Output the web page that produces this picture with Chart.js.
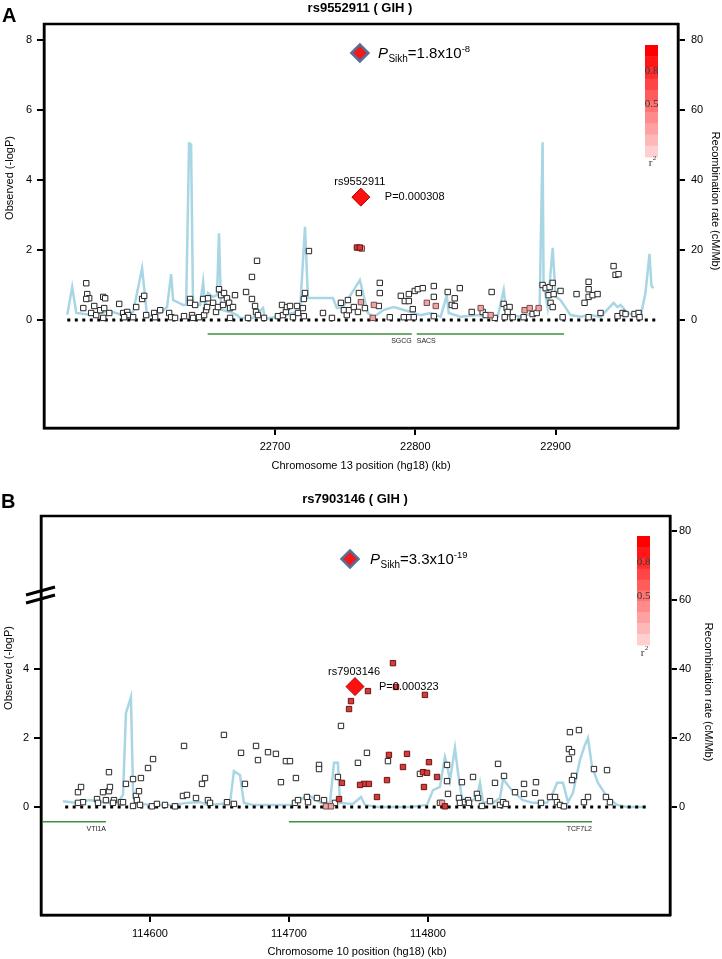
<!DOCTYPE html>
<html>
<head>
<meta charset="utf-8">
<script src="https://cdn.jsdelivr.net/npm/chart.js@4.4.0/dist/chart.umd.min.js"></script>
<style>
  body { margin: 0; background: #fff; }
  #wrap { position: relative; width: 722px; height: 959px; }
  canvas { position: absolute; left: 0; }
  #chartA { top: 0; }
  #chartB { top: 480px; }
</style>
</head>
<body>
<div id="wrap">
  <canvas id="chartA" width="722" height="480"></canvas>
  <canvas id="chartB" width="722" height="479"></canvas>
</div>
<script>
// ---------- shared ticks ----------
const recTicks = [0, 20, 40, 60, 80];

// ---------- panel A: rs9552911, chromosome 13 ----------
const xTicksA = [22700, 22800, 22900];
const yTicksA = [0, 2, 4, 6, 8];

// r2 low (white squares)
const lowPosA = [22565.5, 22566.2, 22567.6, 22565.5, 22563.4, 22571.2, 22569.0, 22572.6, 22575.5, 22577.6,
  22579.0, 22578.3, 22577.6, 22581.9, 22589.0, 22591.8, 22594.7, 22595.4, 22592.5, 22598.9,
  22601.1, 22605.3, 22606.8, 22608.2, 22613.9, 22614.6, 22618.2, 22624.6, 22626.0, 22628.8,
  22635.2, 22639.5, 22639.5, 22643.1, 22640.9, 22641.6, 22645.9, 22648.8, 22649.5, 22650.9,
  22652.3, 22651.6, 22655.9, 22658.0, 22659.4, 22660.1, 22661.6, 22663.0, 22663.7, 22665.8,
  22667.3, 22668.0, 22668.0, 22670.1, 22671.5, 22679.4, 22683.6, 22683.6, 22685.8, 22687.2,
  22686.5, 22687.9, 22680.8, 22692.2, 22702.1, 22705.0, 22705.7, 22707.8, 22708.5, 22710.7,
  22712.8, 22715.7, 22716.4, 22719.9, 22720.6, 22720.6, 22721.4, 22724.2, 22734.2, 22740.6,
  22747.0, 22752.0, 22749.1, 22751.2, 22752.7, 22756.2, 22759.1, 22759.8, 22764.1, 22774.0,
  22774.7, 22774.7, 22781.8, 22789.7, 22792.5, 22795.4, 22795.4, 22795.4, 22798.2, 22799.6,
  22801.8, 22805.3, 22791.8, 22798.9, 22813.2, 22813.2, 22813.2, 22823.1, 22826.0, 22828.1,
  22828.1, 22831.7, 22840.2, 22848.0, 22850.2, 22854.4, 22856.6, 22863.0, 22865.1, 22867.2,
  22865.8, 22863.7, 22869.4, 22877.2, 22883.6, 22886.5, 22890.7, 22892.9, 22895.7, 22897.9,
  22895.0, 22898.6, 22896.4, 22897.9, 22903.5, 22905.0, 22914.9, 22920.6, 22923.5, 22923.5,
  22923.5, 22923.5, 22926.3, 22929.9, 22932.0, 22941.3, 22942.7, 22944.8, 22944.1, 22947.7,
  22949.8, 22956.2, 22959.1, 22959.8];
const lowLogpA = [1.05, 0.74, 0.62, 0.60, 0.34, 0.40, 0.20, 0.14, 0.28, 0.66,
  0.62, 0.34, 0.06, 0.20, 0.46, 0.20, 0.23, 0.14, 0.08, 0.08,
  0.37, 0.60, 0.69, 0.14, 0.20, 0.08, 0.28, 0.20, 0.08, 0.06,
  0.11, 0.60, 0.49, 0.43, 0.14, 0.06, 0.08, 0.60, 0.14, 0.28,
  0.62, 0.37, 0.49, 0.23, 0.37, 0.88, 0.71, 0.43, 0.77, 0.62,
  0.49, 0.34, 0.06, 0.37, 0.71, 0.80, 1.23, 0.60, 0.40, 1.69,
  0.23, 0.14, 0.06, 0.06, 0.11, 0.43, 0.14, 0.23, 0.37, 0.40,
  0.08, 0.40, 0.20, 0.34, 0.60, 0.11, 0.77, 1.97, 0.20, 0.06,
  0.49, 0.57, 0.28, 0.14, 0.28, 0.37, 0.23, 0.77, 0.34, 0.40,
  1.06, 0.77, 0.08, 0.69, 0.54, 0.74, 0.54, 0.08, 0.31, 0.83,
  0.88, 0.91, 0.08, 0.08, 0.97, 0.66, 0.11, 0.80, 0.43, 0.62,
  0.40, 0.91, 0.23, 0.23, 0.14, 0.80, 0.06, 0.46, 0.34, 0.37,
  0.23, 0.08, 0.08, 0.08, 0.17, 0.20, 1.00, 0.91, 0.94, 1.06,
  0.71, 0.74, 0.49, 0.37, 0.83, 0.08, 0.74, 0.49, 1.09, 0.88,
  0.66, 0.08, 0.71, 0.74, 0.20, 1.54, 1.29, 1.31, 0.11, 0.20,
  0.17, 0.17, 0.20, 0.08];
// r2 moderate (pink squares)
const midPosA = [22761.9, 22761.2, 22770.5, 22769.7, 22808.2, 22814.6, 22846.6, 22853.7, 22877.9, 22881.5, 22887.9];
const midLogpA = [2.04, 0.51, 0.43, 0.06, 0.49, 0.40, 0.34, 0.14, 0.28, 0.34, 0.34];
// r2 high (red squares)
const highPosA = [22758.4, 22760.5];
const highLogpA = [2.07, 2.07];

// recombination rate (cM/Mb)
const recPosA = [22552.0, 22555.5, 22558.4, 22568.3, 22582.6, 22593.2, 22598.9, 22605.3, 22608.9, 22618.2,
  22623.1, 22626.0, 22627.4, 22634.5, 22636.7, 22638.8, 22639.6, 22640.2, 22641.6, 22646.6,
  22648.8, 22650.2, 22652.3, 22655.9, 22658.7, 22660.1, 22661.6, 22668.0, 22673.0, 22675.1,
  22684.3, 22691.5, 22692.9, 22701.4, 22712.8, 22717.8, 22721.4, 22723.5, 22741.3, 22744.1,
  22748.4, 22760.5, 22766.2, 22770.5, 22777.6, 22784.7, 22796.8, 22803.9, 22811.0, 22818.1,
  22822.4, 22823.8, 22832.4, 22844.5, 22851.6, 22858.7, 22863.0, 22865.1, 22875.1, 22884.3,
  22888.6, 22890.7, 22891.4, 22894.3, 22897.9, 22900.0, 22903.5, 22910.7, 22917.8, 22924.9,
  22932.0, 22941.3, 22944.1, 22946.3, 22951.2, 22955.5, 22960.5, 22964.0, 22966.9, 22968.3,
  22969.7];
const recRateA = [1.5, 9.4, 2.0, 1.5, 2.5, 1.2, 2.3, 14.8, 0.9, 2.0,
  3.7, 13.1, 5.7, 4.3, 4.3, 50.8, 46.0, 50.5, 4.3, 4.3,
  10.9, 3.7, 7.7, 6.6, 7.1, 24.8, 2.9, 2.3, 1.4, 0.6,
  0.6, 3.4, 0.3, 0.9, 2.0, 2.3, 26.6, 6.3, 6.3, 3.4,
  3.7, 11.4, 2.0, 0.9, 2.9, 3.7, 2.3, 1.4, 2.0, 0.9,
  7.1, 2.0, 0.9, 1.4, 0.9, 0.9, 8.6, 1.4, 0.9, 2.0,
  3.7, 50.8, 10.6, 3.7, 20.6, 6.6, 5.7, 1.4, 0.9, 1.4,
  0.9, 4.9, 3.7, 4.3, 2.0, 1.4, 0.9, 7.7, 18.9, 9.7,
  9.1];

const geneNamesA = ['SGCG', 'SACS'];
const geneStartA = [22652.0, 22801.0];
const geneEndA = [22797.5, 22906.0];
const geneLabelAtA = ['end', 'start'];

const indexNameA = 'rs9552911';
const indexPA = 'P=0.000308';
const indexPosA = 22761.2;
const indexLogpA = 3.51;
const sikhPosA = 22760.5;
const sikhLogpA = 7.63;
const sikhTextA = ['1.8x10', '-8'];
const baseSpanA = [22552, 22971];

// ---------- panel B: rs7903146, chromosome 10 ----------
const xTicksB = [114600, 114700, 114800];
const yTicksB = [0, 2, 4];

const lowPosB = [114548.2, 114550.4, 114551.8, 114548.2, 114561.9, 114562.6, 114566.2, 114568.3, 114570.5, 114571.2,
  114570.5, 114574.1, 114573.4, 114579.1, 114580.6, 114582.7, 114587.8, 114587.8, 114589.9, 114590.6,
  114592.1, 114593.5, 114592.8, 114598.6, 114602.2, 114601.4, 114605.0, 114610.8, 114618.0, 114624.5,
  114623.7, 114626.6, 114633.1, 114637.4, 114639.6, 114641.7, 114643.2, 114653.2, 114655.4, 114660.4,
  114665.5, 114668.3, 114676.3, 114677.7, 114684.9, 114690.6, 114694.2, 114697.8, 114700.7, 114705.0,
  114704.3, 114706.5, 114712.9, 114713.7, 114720.1, 114721.6, 114721.6, 114725.2, 114733.1, 114735.2,
  114737.4, 114749.6, 114756.1, 114771.2, 114794.2, 114813.7, 114813.7, 114814.4, 114808.6, 114822.3,
  114824.4, 114823.0, 114826.6, 114828.8, 114829.5, 114832.4, 114835.2, 114836.0, 114838.8, 114844.6,
  114848.2, 114850.4, 114854.7, 114851.8, 114854.0, 114856.1, 114862.6, 114869.1, 114869.1, 114877.7,
  114877.0, 114881.3, 114887.8, 114891.4, 114892.8, 114895.0, 114897.8, 114902.1, 114908.6, 114901.4,
  114903.6, 114901.4, 114905.0, 114903.6, 114912.2, 114915.1, 114919.4, 114928.8, 114928.0, 114930.9];
const lowLogpB = [0.43, 0.58, 0.14, 0.12, 0.23, 0.12, 0.43, 0.20, 0.46, 0.58,
  1.01, 0.20, 0.12, 0.14, 0.14, 0.67, 0.81, 0.03, 0.32, 0.20,
  0.46, 0.84, 0.06, 1.13, 1.39, 0.02, 0.09, 0.06, 0.02, 1.77,
  0.32, 0.35, 0.26, 0.67, 0.84, 0.20, 0.12, 2.09, 0.14, 0.09,
  1.57, 0.67, 1.77, 1.36, 1.59, 1.54, 0.72, 1.33, 1.33, 0.84,
  0.12, 0.20, 0.29, 0.14, 0.26, 1.22, 1.10, 0.20, 0.12, 0.87,
  2.35, 1.28, 1.57, 1.33, 0.96, 1.22, 0.75, 0.38, 0.12, 0.26,
  0.72, 0.12, 0.14, 0.20, 0.12, 0.87, 0.38, 0.26, 0.03, 0.17,
  0.70, 1.25, 0.90, 0.06, 0.14, 0.09, 0.43, 0.67, 0.38, 0.72,
  0.41, 0.12, 0.29, 0.29, 0.14, 0.06, 0.02, 2.17, 2.23, 1.68,
  1.59, 1.39, 0.90, 0.78, 0.14, 0.29, 1.10, 1.07, 0.29, 0.14];
const midPosB = [114726.6, 114730.2, 114810.1];
const midLogpB = [0.02, 0.02, 0.12];
const highPosB = [114774.8, 114756.8, 114777.0, 114797.8, 114744.6, 114743.2, 114771.9, 114784.9, 114782.0, 114800.7,
  114796.4, 114799.3, 114806.5, 114797.1, 114770.5, 114754.0, 114757.5, 114763.3, 114738.1, 114736.0,
  114751.1, 114812.2];
const highLogpB = [4.17, 3.36, 3.48, 3.25, 3.07, 2.84, 1.51, 1.54, 1.16, 1.30,
  1.01, 0.99, 0.87, 0.58, 0.78, 0.67, 0.67, 0.29, 0.70, 0.23,
  0.64, 0.02];

const recPosB = [114537.4, 114547.5, 114556.8, 114569.1, 114577.0, 114580.6, 114582.7, 114586.3, 114587.8, 114589.2,
  114600.0, 114616.5, 114626.6, 114636.0, 114641.7, 114650.4, 114657.6, 114660.4, 114664.7, 114667.6,
  114674.1, 114688.5, 114702.9, 114710.1, 114713.7, 114722.3, 114729.5, 114732.4, 114735.2, 114736.7,
  114746.0, 114751.8, 114754.7, 114763.3, 114787.0, 114799.3, 114803.6, 114808.6, 114812.2, 114813.7,
  114815.8, 114819.4, 114821.6, 114824.4, 114830.2, 114835.2, 114837.4, 114839.6, 114846.8, 114851.8,
  114854.0, 114859.0, 114864.0, 114868.3, 114875.5, 114885.6, 114889.9, 114892.8, 114897.1, 114900.7,
  114904.3, 114909.3, 114912.9, 114915.1, 114918.0, 114922.3, 114928.8, 114936.0, 114943.2, 114956.1];
const recRateB = [1.7, 1.2, 2.0, 1.2, 1.4, 3.5, 27.2, 31.9, 4.9, 1.2,
  0.6, 0.6, 1.2, 1.4, 0.6, 0.9, 1.2, 10.4, 9.3, 1.2,
  0.6, 0.6, 0.6, 2.6, 3.5, 1.4, 1.2, 12.8, 12.8, 1.2,
  0.9, 2.9, 0.6, 0.0, 0.0, 0.6, 4.9, 5.8, 14.5, 12.2,
  7.8, 17.1, 9.9, 2.6, 1.4, 2.9, 7.0, 1.4, 1.2, 2.6,
  8.1, 5.5, 3.5, 2.0, 1.2, 1.2, 4.1, 7.0, 7.0, 1.4,
  4.1, 13.6, 18.0, 20.0, 11.6, 7.0, 2.9, 0.6, 0.0, 0.0];

const geneNamesB = ['VTI1A', 'TCF7L2'];
const geneStartB = [114522.0, 114700.0];
const geneEndB = [114568.3, 114918.0];
const geneLabelAtB = ['end', 'end'];

const indexNameB = 'rs7903146';
const indexPB = 'P=0.000323';
const indexPosB = 114747.5;
const indexLogpB = 3.49;
const sikhPosB = 114743.9;
const sikhLogpB = 7.19;
const sikhTextB = ['3.3x10', '-19'];
const baseSpanB = [114539, 114957.5];

// ---------- drawing ----------
const FONT = '"Liberation Sans", Arial, Helvetica, sans-serif';
const SERIF = '"Liberation Serif", "Times New Roman", serif';

function pts(xs, ys) {
  return xs.map((x, i) => ({ x: x, y: ys[i] }));
}

function decorPlugin(p, lay) {
  return {
    id: 'decor',
    afterDraw(chart) {
      const ctx = chart.ctx;
      const a = chart.chartArea;
      const xs = chart.scales.x;
      const ys = chart.scales.y;
      ctx.save();
      ctx.strokeStyle = '#000';
      ctx.lineWidth = 2.5;
      ctx.strokeRect(a.left, a.top, a.right - a.left, a.bottom - a.top);

      ctx.fillStyle = '#000';
      ctx.textBaseline = 'alphabetic';
      ctx.textAlign = 'left';
      ctx.font = 'bold 20px ' + FONT;
      ctx.fillText(lay.letter, lay.letterX, lay.letterY);
      ctx.textAlign = 'center';
      ctx.font = 'bold 13px ' + FONT;
      ctx.fillText(p.title, lay.titleX, lay.titleY);

      // axis titles
      ctx.font = '11px ' + FONT;
      ctx.textBaseline = 'middle';
      ctx.fillText(p.xTitle, lay.xTitleX, lay.xTitleY);
      ctx.save();
      ctx.translate(lay.yTitleX, lay.yTitleY);
      ctx.rotate(-Math.PI / 2);
      ctx.fillText('Observed (-logP)', 0, 0);
      ctx.restore();
      ctx.save();
      ctx.translate(lay.y2TitleX, lay.y2TitleY);
      ctx.rotate(Math.PI / 2);
      ctx.fillText('Recombination rate (cM/Mb)', 0, 0);
      ctx.restore();

      // gene labels
      ctx.font = '7px "Liberation Sans Narrow", ' + FONT;
      ctx.fillStyle = '#222';
      p.geneNames.forEach((g, i) => {
        const atEnd = p.geneLabelAt[i] === 'end';
        const gx = xs.getPixelForValue(atEnd ? p.geneEnd[i] : p.geneStart[i]);
        ctx.textAlign = atEnd ? 'right' : 'left';
        ctx.fillText(g, gx, ys.getPixelForValue(lay.geneY) + 7.5);
      });

      // index SNP labels
      const ix = xs.getPixelForValue(p.indexPos);
      const iy = ys.getPixelForValue(p.indexLogp);
      ctx.fillStyle = '#000';
      ctx.font = '11px ' + FONT;
      ctx.textAlign = 'center';
      ctx.fillText(p.indexName, ix - 1, iy - 15);
      ctx.textAlign = 'left';
      ctx.fillText(p.indexP, ix + 24, iy);

      // Sikh replication label
      const sx = xs.getPixelForValue(p.sikhPos) + lay.sikhDx;
      const sy = ys.getPixelForValue(p.sikhLogp) + 5;
      ctx.textBaseline = 'alphabetic';
      let cx = sx;
      ctx.font = 'italic 15px ' + FONT;
      ctx.fillText('P', cx, sy);
      cx += ctx.measureText('P').width + 0.5;
      ctx.font = '10px ' + FONT;
      ctx.fillText('Sikh', cx, sy + 4);
      cx += ctx.measureText('Sikh').width;
      ctx.font = '15px ' + FONT;
      ctx.fillText('=' + p.sikhText[0], cx, sy);
      cx += ctx.measureText('=' + p.sikhText[0]).width;
      ctx.font = '9.5px ' + FONT;
      ctx.fillText(p.sikhText[1], cx, sy - 6);

      // r2 legend
      const L = lay.legend;
      const bins = 10;
      const bh = L.h / bins;
      for (let i = 0; i < bins; i++) {
        const alpha = 1 - i * 0.09;
        const g = Math.round(255 * (1 - alpha));
        ctx.fillStyle = 'rgb(255,' + g + ',' + g + ')';
        ctx.fillRect(L.x, L.y + i * bh, L.w, bh + 0.5);
      }
      ctx.fillStyle = '#333';
      ctx.font = '11px ' + SERIF;
      ctx.textAlign = 'center';
      ctx.textBaseline = 'middle';
      ctx.fillText('0.8', L.x + L.w / 2, L.y8);
      ctx.fillText('0.5', L.x + L.w / 2, L.y5);
      ctx.fillText('r', L.x + L.w / 2 - 1, L.yr);
      ctx.font = '7px ' + SERIF;
      ctx.fillText('2', L.x + L.w / 2 + 3, L.yr - 5);

      // axis break marks
      if (lay.breakY) {
        ctx.strokeStyle = '#000';
        ctx.lineWidth = 3;
        ctx.beginPath();
        ctx.moveTo(26, lay.breakY + 4);
        ctx.lineTo(55, lay.breakY - 4);
        ctx.moveTo(26, lay.breakY + 12);
        ctx.lineTo(55, lay.breakY + 4);
        ctx.stroke();
      }
      ctx.restore();
    }
  };
}

function axisStyle(extra) {
  return Object.assign({
    ticks: { font: { family: FONT, size: 11 }, color: '#000', padding: 5, maxRotation: 0, autoSkip: false,
             callback: v => String(v) },
    grid: { drawOnChartArea: false, drawTicks: true, tickLength: 7, color: '#000', lineWidth: 2 },
    border: { display: true, color: '#000', width: 2.5 }
  }, extra);
}

function makePanel(id, p, lay) {
  const sq = { pointStyle: 'rect', pointRadius: 3.8, pointHoverRadius: 3.8, borderWidth: 1 };
  const datasets = [
    { data: [{ x: p.sikhPos, y: p.sikhLogp }], pointStyle: 'rectRot', pointRadius: 8.5, backgroundColor: '#f01a1a',
      borderColor: '#54709b', borderWidth: 2.5, order: 0 },
    { data: [{ x: p.indexPos, y: p.indexLogp }], pointStyle: 'rectRot', pointRadius: 9, backgroundColor: '#ff1010',
      borderColor: '#b00000', borderWidth: 1, order: 1 },
    Object.assign({ data: pts(p.highPos, p.highLogp), backgroundColor: '#d63a3a', borderColor: '#6a1414', order: 2 }, sq),
    Object.assign({ data: pts(p.midPos, p.midLogp), backgroundColor: '#eba6a6', borderColor: '#7d4848', order: 3 }, sq),
    Object.assign({ data: pts(p.lowPos, p.lowLogp), backgroundColor: '#ffffff', borderColor: '#262626', order: 4 }, sq),
    { data: [{ x: p.baseSpan[0], y: 0 }, { x: p.baseSpan[1], y: 0 }], showLine: true, borderColor: '#000',
      borderWidth: 3, borderDash: [3, 4.5], pointRadius: 0, order: 5 }
  ];
  p.geneNames.forEach((g, i) => {
    datasets.push({ data: [{ x: p.geneStart[i], y: lay.geneY }, { x: p.geneEnd[i], y: lay.geneY }], showLine: true,
      borderColor: '#3f8f3f', borderWidth: 1.5, pointRadius: 0, order: 6 });
  });
  datasets.push({ data: pts(p.recPos, p.recRate), yAxisID: 'y2', showLine: true, borderColor: '#a8d6e4',
    borderWidth: 2.5, pointRadius: 0, tension: 0, order: 7 });

  return new Chart(document.getElementById(id).getContext('2d'), {
    type: 'scatter',
    data: { datasets: datasets },
    options: {
      responsive: false,
      animation: false,
      layout: { padding: { top: lay.top, left: 0, right: 0, bottom: 0 } },
      plugins: { legend: { display: false }, tooltip: { enabled: false } },
      scales: {
        x: axisStyle({ type: 'linear', min: lay.xMin, max: lay.xMax,
          afterBuildTicks: s => { s.ticks = p.xTicks.map(v => ({ value: v })); },
          afterFit: s => { s.height = lay.xAxisH; } }),
        y: axisStyle({ type: 'linear', position: 'left', min: lay.yMin, max: lay.yMax,
          afterBuildTicks: s => { s.ticks = p.yTicks.map(v => ({ value: v })); },
          afterFit: s => { s.width = lay.yAxisW; } }),
        y2: Object.assign(axisStyle({ type: 'linear', position: 'right', min: lay.yMin * 10, max: lay.yMax * 10,
          afterBuildTicks: s => { s.ticks = recTicks.map(v => ({ value: v })); },
          afterFit: s => { s.width = lay.y2AxisW; } }),
          { ticks: { font: { family: FONT, size: 11 }, color: '#000', padding: lay.y2Pad, autoSkip: false,
                     callback: v => String(v) } })
      }
    },
    plugins: [decorPlugin(p, lay)]
  });
}

makePanel('chartA', {
  title: 'rs9552911 ( GIH )', xTitle: 'Chromosome 13 position (hg18) (kb)',
  xTicks: xTicksA, yTicks: yTicksA,
  lowPos: lowPosA, lowLogp: lowLogpA, midPos: midPosA, midLogp: midLogpA, highPos: highPosA, highLogp: highLogpA,
  recPos: recPosA, recRate: recRateA,
  geneNames: geneNamesA, geneStart: geneStartA, geneEnd: geneEndA, geneLabelAt: geneLabelAtA,
  indexName: indexNameA, indexP: indexPA, indexPos: indexPosA, indexLogp: indexLogpA,
  sikhPos: sikhPosA, sikhLogp: sikhLogpA, sikhText: sikhTextA, baseSpan: baseSpanA
}, {
  top: 24, xAxisH: 52, yAxisW: 44, y2AxisW: 44, y2Pad: 6,
  xMin: 22535.4, xMax: 22987.2, yMin: -3.086, yMax: 8.457, geneY: -0.4,
  letter: 'A', letterX: 2, letterY: 22, titleX: 360, titleY: 12,
  xTitleX: 361, xTitleY: 466, yTitleX: 10, yTitleY: 178, y2TitleX: 715, y2TitleY: 201,
  sikhDx: 18,
  legend: { x: 645, y: 45, w: 13, h: 112, y8: 71, y5: 104, yr: 163 }
});

makePanel('chartB', {
  title: 'rs7903146 ( GIH )', xTitle: 'Chromosome 10 position (hg18) (kb)',
  xTicks: xTicksB, yTicks: yTicksB,
  lowPos: lowPosB, lowLogp: lowLogpB, midPos: midPosB, midLogp: midLogpB, highPos: highPosB, highLogp: highLogpB,
  recPos: recPosB, recRate: recRateB,
  geneNames: geneNamesB, geneStart: geneStartB, geneEnd: geneEndB, geneLabelAt: geneLabelAtB,
  indexName: indexNameB, indexP: indexPB, indexPos: indexPosB, indexLogp: indexLogpB,
  sikhPos: sikhPosB, sikhLogp: sikhLogpB, sikhText: sikhTextB, baseSpan: baseSpanB
}, {
  top: 36, xAxisH: 44, yAxisW: 41, y2AxisW: 52, y2Pad: 2,
  xMin: 114521.6, xMax: 114974.1, yMin: -3.13, yMax: 8.435, geneY: -0.43,
  letter: 'B', letterX: 1, letterY: 28, titleX: 355, titleY: 23,
  xTitleX: 357, xTitleY: 472, yTitleX: 9, yTitleY: 188, y2TitleX: 708, y2TitleY: 212,
  sikhDx: 20, breakY: 111,
  legend: { x: 637, y: 56, w: 13, h: 109, y8: 82, y5: 116, yr: 173 }
});
</script>
</body>
</html>
